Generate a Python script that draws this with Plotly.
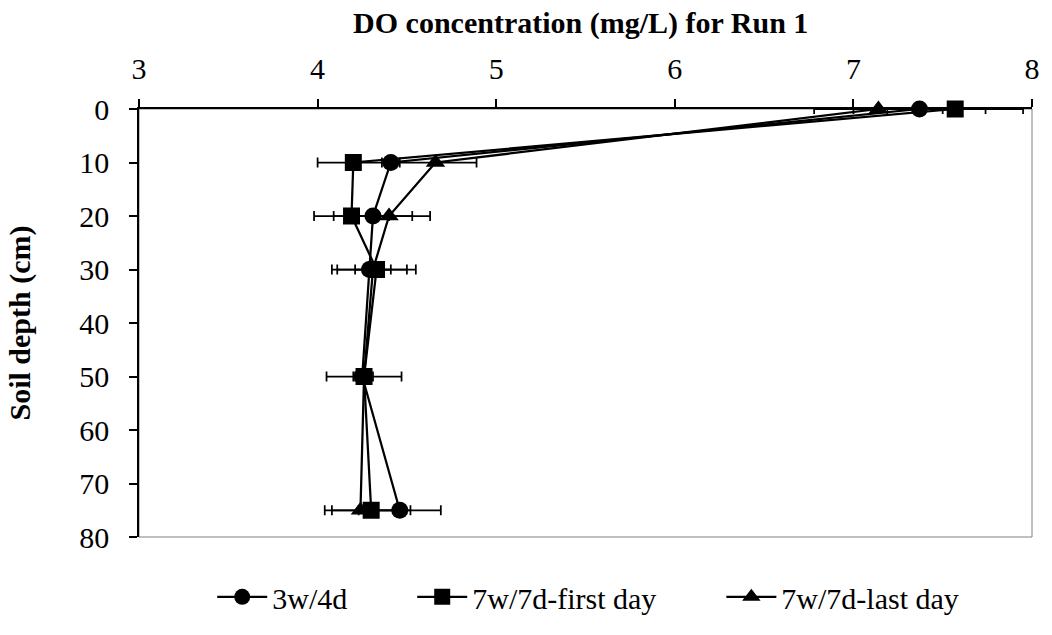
import plotly.graph_objects as go

# Soil depth (cm) at each sampling port
depth = [0, 10, 20, 30, 50, 75]

# Dissolved oxygen (mg/L), mean and standard deviation per depth
do_3w4d = [7.37, 4.41, 4.31, 4.29, 4.25, 4.46]
sd_3w4d = [0.37, 0.05, 0.22, 0.21, 0.05, 0.23]

do_7w7d_first = [7.57, 4.20, 4.19, 4.33, 4.26, 4.30]
sd_7w7d_first = [0.38, 0.20, 0.21, 0.22, 0.21, 0.22]

do_7w7d_last = [7.14, 4.66, 4.40, 4.31, 4.26, 4.24]
sd_7w7d_last = [0.36, 0.23, 0.23, 0.10, 0.05, 0.20]

series = [
    ("3w/4d", do_3w4d, sd_3w4d, "circle"),
    ("7w/7d-first day", do_7w7d_first, sd_7w7d_first, "square"),
    ("7w/7d-last day", do_7w7d_last, sd_7w7d_last, "triangle-up"),
]

FONT = "Liberation Serif, Times New Roman, serif"
NBSP = "\u00a0"
# trailing non-breaking spaces widen the gap between legend entries
pad = {"3w/4d": 8, "7w/7d-first day": 8, "7w/7d-last day": 0}

fig = go.Figure()
for name, vals, sds, sym in series:
    fig.add_trace(go.Scatter(
        x=vals, y=depth, name=name + NBSP * pad[name],
        mode="lines+markers", cliponaxis=False,
        line=dict(color="black", width=2.25),
        marker=dict(symbol=sym, size=17, color="black"),
        error_x=dict(type="data", array=sds, visible=True,
                     color="black", thickness=1.75, width=5),
    ))

fig.update_layout(
    width=1052, height=635,
    margin=dict(l=139, r=17, t=109, b=81),
    paper_bgcolor="white", plot_bgcolor="white",
    font=dict(family=FONT, size=30, color="black"),
    title=dict(text="<b>DO concentration (mg/L) for Run 1</b>",
               x=0.552, xanchor="center", y=1 - 22 / 635, yanchor="middle",
               yref="container", font=dict(size=30)),
    showlegend=True,
    legend=dict(orientation="h", x=0.082, xanchor="left",
                y=-0.079, yanchor="top", font=dict(size=30),
                itemwidth=50, bgcolor="rgba(0,0,0,0)"),
    shapes=[dict(type="rect", xref="paper", yref="paper",
                 x0=0, x1=1, y0=0, y1=1,
                 line=dict(color="#808080", width=1), layer="below")],
)

fig.update_xaxes(
    side="top", range=[3, 8], dtick=1, tick0=3,
    showgrid=False, zeroline=False,
    showline=True, linecolor="black", linewidth=1.5,
    ticks="outside", ticklen=8, tickcolor="black", tickwidth=1.5,
    ticklabelstandoff=8,
)
fig.update_yaxes(
    range=[80, 0], dtick=10, tick0=0,
    showgrid=False, zeroline=False,
    showline=True, linecolor="black", linewidth=1.5,
    ticks="outside", ticklen=8, tickcolor="black", tickwidth=1.5,
    ticklabelstandoff=14,
    title=dict(text="<b>Soil depth (cm)</b>", font=dict(size=30), standoff=40),
)

fig.write_html("out.html")
